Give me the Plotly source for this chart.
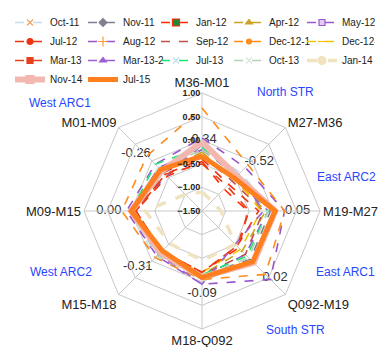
import math
import plotly.graph_objects as go

categories = ["M36-M01", "M27-M36", "M19-M27", "Q092-M19", "M18-Q092", "M15-M18", "M09-M15", "M01-M09"]

series_names = ["Oct-11", "Nov-11", "Jan-12", "Apr-12", "May-12", "Jul-12", "Aug-12", "Sep-12",
                "Dec-12-1", "Dec-12-2", "Mar-13", "Mar-13-2", "Jul-13", "Oct-13", "Jan-14", "Nov-14", "Jul-15"]

oct_11 = [-0.15, -0.35, 0.00, 0.10, -0.05, -0.10, 0.05, -0.20]
nov_11 = [-0.20, -0.45, -0.05, -0.05, -0.15, -0.25, -0.05, -0.30]
jan_12 = [-0.45, -0.84, -0.53, -0.40, -0.20, -0.30, -0.10, -0.46]
apr_12 = [-0.25, -0.55, -0.15, -0.30, -0.15, -0.25, -0.05, -0.35]
may_12 = [-0.10, -0.50, -0.10, -0.20, -0.10, -0.20, 0.00, -0.45]
jul_12 = [-0.40, -0.70, -0.30, -0.45, -0.20, -0.30, -0.10, -0.40]
aug_12 = [0.05, -0.20, 0.25, 0.55, 0.05, -0.15, 0.10, -0.10]
sep_12 = [-0.30, -0.60, -0.20, -0.20, -0.15, -0.25, -0.05, -0.35]
dec_12_1 = [0.68, -0.12, 0.25, 0.40, -0.05, -0.10, 0.20, 0.15]
dec_12_2 = [-0.30, -0.50, -0.25, -0.35, -0.20, -0.20, -0.05, -0.30]
mar_13 = [-0.50, -0.75, -0.50, -0.45, -0.20, -0.25, -0.10, -0.40]
mar_13_2 = [-0.20, -0.40, -0.20, -0.50, 0.05, -0.20, 0.00, -0.20]
jul_13 = [-0.15, -0.45, -0.10, -0.15, -0.15, -0.20, 0.00, -0.10]
oct_13 = [-0.20, -0.40, -0.10, -0.10, -0.10, -0.15, 0.00, -0.25]
jan_14 = [-1.10, -1.20, -1.10, -0.50, -0.45, -0.53, -0.30, -1.00]
nov_14 = [-0.04, -0.45, 0.05, 0.05, -0.10, -0.25, 0.00, -0.30]
jul_15 = [-0.34, -0.52, 0.05, 0.02, -0.09, -0.31, 0.00, -0.26]

radial_ticks = [-1.5, -1.0, -0.5, 0.0, 0.5, 1.0]
radial_range = [-1.5, 1.0]

region_labels = ["North STR", "East ARC2", "East ARC1", "South STR", "West ARC2", "West ARC1"]

all_values = [oct_11, nov_11, jan_12, apr_12, may_12, jul_12, aug_12, sep_12, dec_12_1, dec_12_2,
              mar_13, mar_13_2, jul_13, oct_13, jan_14, nov_14, jul_15]

# style: line color, width, dash, marker symbol, marker fill, marker line color, marker size
styles = [
    ("#c6dcf0", 1.6, "dash", "x-thin", "#f0a060", "#f0a060", 6),
    ("#7f7f8f", 1.6, "dash", "diamond", "#7f7f8f", "#7f7f8f", 6),
    ("#ff2a00", 1.6, "dash", "square", "#1a8a3a", "#ff2a00", 7),
    ("#c9a227", 1.6, "dash", "triangle-up", "#c9a227", "#c9a227", 6),
    ("#9b59d0", 1.6, "dash", "square", "#e3ccf2", "#9b59d0", 6),
    ("#ee3311", 1.6, "dash", "circle", "#ee3311", "#ee3311", 6),
    ("#9955cc", 1.6, "dash", "cross-thin", "#ff9933", "#ff9933", 7),
    ("#c0504d", 1.6, "dash", None, None, None, 0),
    ("#ff8c1a", 1.6, "dash", "circle", "#ff8c1a", "#ff8c1a", 5),
    ("#f5c400", 1.6, "dash", "line-ew", "#f5c400", "#f5c400", 6),
    ("#e8401c", 1.6, "dash", "square", "#e8401c", "#e8401c", 6),
    ("#9a5fd0", 1.6, "dash", "triangle-up", "#9a5fd0", "#9a5fd0", 6),
    ("#19e66e", 1.6, "dash", "x-thin", "#bde0f5", "#bde0f5", 6),
    ("#b7d3b7", 1.6, "dash", "x-thin", "#d8e8d8", "#d8e8d8", 6),
    ("#efe3c0", 3.5, "dash", "circle", "#efe3c0", "#efe3c0", 8),
    ("#f2b8b0", 6, "solid", "square", "#f2b8b0", "#f2b8b0", 8),
]

theta_closed = categories + [categories[0]]

fig = go.Figure()
for name, vals, st in zip(series_names[:-1], all_values[:-1], styles):
    color, width, dash, sym, fill, mline, msize = st
    r = vals + [vals[0]]
    if sym is None:
        fig.add_trace(go.Scatterpolar(r=r, theta=theta_closed, name=name, mode="lines",
                                      line=dict(color=color, width=width, dash=dash)))
    else:
        fig.add_trace(go.Scatterpolar(r=r, theta=theta_closed, name=name, mode="lines+markers",
                                      line=dict(color=color, width=width, dash=dash),
                                      marker=dict(symbol=sym, size=msize, color=fill,
                                                  line=dict(color=mline, width=1.2))))

# Jul-15 line
fig.add_trace(go.Scatterpolar(r=jul_15 + [jul_15[0]], theta=theta_closed, name="Jul-15",
                              mode="lines", line=dict(color="#ff7f1e", width=5)))

# Jul-15 data labels: text on a hidden cartesian overlay that shares the polar domain,
# positions derived from the same values and the radial range
span = radial_range[1] - radial_range[0]
n = len(categories)
lab_x = [((v - radial_range[0]) / span) * math.sin(2 * math.pi * i / n) for i, v in enumerate(jul_15)]
lab_y = [((v - radial_range[0]) / span) * math.cos(2 * math.pi * i / n) for i, v in enumerate(jul_15)]
label_pos = ["top center", "top right", "middle right", "bottom right",
             "bottom center", "bottom left", "middle left", "top left"]
fig.add_trace(go.Scatter(x=lab_x, y=lab_y, mode="markers+text", showlegend=False, hoverinfo="skip",
                         marker=dict(size=14, color="rgba(0,0,0,0)"),
                         text=["%.2f" % v for v in jul_15], textposition=label_pos, cliponaxis=False,
                         textfont=dict(size=13, color="#333333", family="Liberation Sans"),
                         xaxis="x", yaxis="y"))

# The page adds an 8 px body margin: figure is 384x339 and reference pixels are shifted by 8
OFF = 8
W, H = 392 - OFF, 347 - OFF
ann_pos = [(285, 92), (346, 177), (345, 272), (295, 330), (61, 272), (60, 103)]
for txt, (px, py) in zip(region_labels, ann_pos):
    fig.add_annotation(text=txt, x=(px - OFF) / W, y=1 - (py - OFF) / H, xref="paper", yref="paper",
                       xanchor="center", yanchor="middle", showarrow=False,
                       font=dict(size=12, color="#2846ff", family="Liberation Sans"))

cx, cy, R = 202 - OFF, 211 - OFF, 118
dom_x = [(cx - R) / W, (cx + R) / W]
dom_y = [1 - (cy + R) / H, 1 - (cy - R) / H]
fig.update_layout(
    width=W, height=H,
    margin=dict(l=0, r=0, t=0, b=0, autoexpand=False),
    paper_bgcolor="white",
    plot_bgcolor="rgba(0,0,0,0)",
    font=dict(family="Liberation Sans", color="#222222"),
    showlegend=True,
    legend=dict(orientation="h", x=2 / W, y=1.0, xanchor="left", yanchor="top",
                entrywidth=28, entrywidthmode="pixels",
                font=dict(size=10, color="#222222", family="Liberation Sans"),
                bgcolor="rgba(0,0,0,0)", itemwidth=30, traceorder="normal"),
    xaxis=dict(domain=dom_x, range=[-1, 1], visible=False, fixedrange=True),
    yaxis=dict(domain=dom_y, range=[-1, 1], visible=False, fixedrange=True),
    polar=dict(
        domain=dict(x=dom_x, y=dom_y),
        bgcolor="rgba(0,0,0,0)",
        gridshape="linear",
        angularaxis=dict(direction="clockwise", rotation=90, categoryorder="array",
                         categoryarray=categories, showline=True, linecolor="#c8c8c8",
                         gridcolor="#c8c8c8", linewidth=1, ticks="",
                         tickfont=dict(size=13, color="#222222", family="Liberation Sans")),
        radialaxis=dict(range=radial_range, tickvals=radial_ticks, tickformat=".2f",
                        angle=90, side="counterclockwise", showline=False, ticks="",
                        gridcolor="#c8c8c8", tickangle=90,
                        tickfont=dict(size=9, color="#222222", family="Liberation Sans", weight="bold")),
    ),
)

fig.write_html("out.html")
